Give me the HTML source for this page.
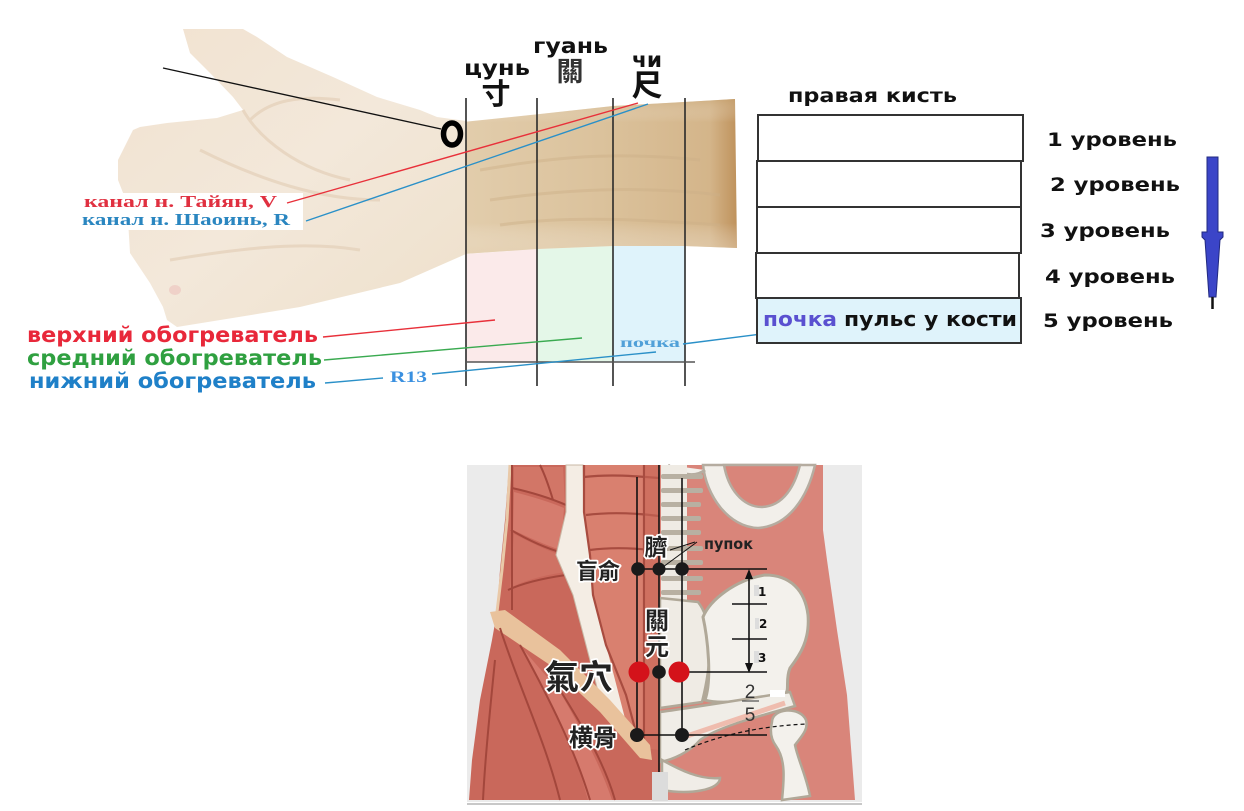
<!DOCTYPE html>
<html><head><meta charset="utf-8"><style>
html,body{margin:0;padding:0;background:#fff;}
svg{display:block;}
.b{font-family:"DejaVu Sans","Liberation Sans",sans-serif;font-weight:bold;}
.s{font-family:"Liberation Serif",serif;font-weight:bold;}
.c{font-family:"Liberation Sans","Noto Sans CJK TC",sans-serif;}
.o{paint-order:stroke;stroke:#fff;stroke-width:3.5;stroke-linejoin:round;}
</style></head><body>
<svg width="1244" height="811" viewBox="0 0 1244 811" xmlns="http://www.w3.org/2000/svg">
<defs>
<linearGradient id="arm" x1="0" y1="0" x2="1" y2="0">
<stop offset="0" stop-color="#e2cdac"/><stop offset="0.5" stop-color="#dbc29c"/><stop offset="0.9" stop-color="#d4b58a"/><stop offset="1" stop-color="#bf925c"/>
</linearGradient>
<linearGradient id="armv" x1="0" y1="0" x2="0" y2="1">
<stop offset="0" stop-color="#c9a777" stop-opacity="0.45"/><stop offset="0.15" stop-color="#fff" stop-opacity="0"/><stop offset="0.8" stop-color="#fff" stop-opacity="0"/><stop offset="1" stop-color="#e8d6bb" stop-opacity="0.5"/>
</linearGradient>
<linearGradient id="palm" x1="0" y1="0" x2="1" y2="1">
<stop offset="0" stop-color="#f1e2d0"/><stop offset="0.5" stop-color="#f3e8da"/><stop offset="1" stop-color="#eee0cb"/>
</linearGradient>
</defs>
<rect width="1244" height="811" fill="#fff"/>

<!-- colored zones -->
<polygon points="466,254 537,249 537,362 466,362" fill="#fbeaea"/>
<polygon points="537,249 613,246 613,362 537,362" fill="#e4f7e8"/>
<polygon points="613,246 685,246 685,362 613,362" fill="#dff3fb"/>

<!-- forearm -->
<polygon points="463,122 540,114 613,106 684,102 735,99 737,248 684,246 613,246 537,249 463,254" fill="url(#arm)"/>
<polygon points="463,122 540,114 613,106 684,102 735,99 737,248 684,246 613,246 537,249 463,254" fill="url(#armv)"/>
<path d="M480,170 C540,160 600,150 700,160 M490,200 C560,190 640,185 720,195 M500,225 C570,215 650,220 720,225" stroke="#cdb088" stroke-width="3" fill="none" opacity="0.45"/>

<!-- hand -->
<path d="M183,29 L243,29 L257,37 L287,57 L333,77 L377,97 L420,110 L437,117 L466,121 L466,254 L400,283 L300,307 L177,327 L167,320 L163,307 L150,283 L130,253 L127,203 L118,180 L118,160 L133,130 L140,127 L167,123 L217,118 L243,110 L233,97 L210,73 L190,53 Z" fill="url(#palm)"/>
<path d="M243,110 C260,140 300,170 350,180 M200,150 C260,180 320,200 380,200 M170,260 C230,250 300,240 360,250 M250,120 C270,100 300,95 340,100" stroke="#e5d2bb" stroke-width="3" fill="none" opacity="0.8"/>
<ellipse cx="175" cy="290" rx="6" ry="5" fill="#ecc8c0" opacity="0.7"/>

<!-- white label box -->
<rect x="80" y="193" width="223" height="37" fill="#fff"/>

<!-- vertical grid lines -->
<g stroke="#2a2a2a" stroke-width="1.6">
<line x1="466" y1="98" x2="466" y2="386"/>
<line x1="537" y1="98" x2="537" y2="386"/>
<line x1="613" y1="98" x2="613" y2="386"/>
<line x1="685" y1="98" x2="685" y2="386"/>
<line x1="466" y1="362" x2="695" y2="362" stroke="#555"/>
</g>

<!-- connector lines -->
<line x1="163" y1="68" x2="441" y2="129" stroke="#111" stroke-width="1.3"/>
<line x1="287" y1="203" x2="638" y2="103" stroke="#e8303a" stroke-width="1.4"/>
<line x1="306" y1="221" x2="648" y2="104" stroke="#2a90c8" stroke-width="1.4"/>
<line x1="323" y1="337" x2="495" y2="320" stroke="#e8303a" stroke-width="1.4"/>
<line x1="324" y1="360" x2="582" y2="338" stroke="#3aaa50" stroke-width="1.4"/>
<line x1="325" y1="383" x2="383" y2="378" stroke="#2a90c8" stroke-width="1.4"/>
<line x1="432" y1="374" x2="656" y2="352" stroke="#2a90c8" stroke-width="1.4"/>
<line x1="683" y1="344" x2="793" y2="330" stroke="#2a90c8" stroke-width="1.4"/>

<!-- 0 mark -->
<ellipse cx="452" cy="134" rx="8.5" ry="11" fill="none" stroke="#000" stroke-width="5.5"/>

<!-- top labels -->
<text class="b" x="464" y="75" font-size="21" textLength="66" lengthAdjust="spacingAndGlyphs" fill="#111">цунь</text>
<text class="b" x="533" y="53" font-size="21" textLength="75" lengthAdjust="spacingAndGlyphs" fill="#111">гуань</text>
<text class="b" x="632" y="67" font-size="21" textLength="30" lengthAdjust="spacingAndGlyphs" fill="#111">чи</text>
<text class="c" x="496" y="104" font-size="29" text-anchor="middle" font-weight="bold" fill="#111">寸</text>
<text class="c" x="570" y="81" font-size="27" text-anchor="middle" font-weight="bold" fill="#333">關</text>
<text class="c" x="647" y="96" font-size="31" text-anchor="middle" font-weight="bold" fill="#111">尺</text>

<!-- left labels -->
<text class="s" x="84" y="207" font-size="17" textLength="193" lengthAdjust="spacingAndGlyphs" fill="#e03040">канал н. Тайян, V</text>
<text class="s" x="82" y="225" font-size="17" textLength="208" lengthAdjust="spacingAndGlyphs" fill="#2a86c0">канал н. Шаоинь, R</text>
<text class="b" x="27" y="342" font-size="21" textLength="291" lengthAdjust="spacingAndGlyphs" fill="#e8283a">верхний обогреватель</text>
<text class="b" x="27" y="365" font-size="21" textLength="295" lengthAdjust="spacingAndGlyphs" fill="#2fa040">средний обогреватель</text>
<text class="b" x="29" y="388" font-size="21" textLength="287" lengthAdjust="spacingAndGlyphs" fill="#1f80c8">нижний обогреватель</text>
<text class="s" x="390" y="382" font-size="16" textLength="37" lengthAdjust="spacingAndGlyphs" fill="#3a90e0">R13</text>
<text class="s" x="620" y="347" font-size="14" textLength="60" lengthAdjust="spacingAndGlyphs" fill="#50a0d8">почка</text>

<!-- right boxes -->
<text class="b" x="788" y="102" font-size="19" textLength="169" lengthAdjust="spacingAndGlyphs" fill="#111">правая кисть</text>
<g fill="#fff" stroke="#333" stroke-width="2">
<rect x="758" y="115" width="265" height="46"/>
<rect x="757" y="161" width="264" height="46"/>
<rect x="757" y="207" width="264" height="46"/>
<rect x="756" y="253" width="263" height="45"/>
<rect x="757" y="298" width="264" height="45" fill="#dff3fb"/>
</g>
<text class="b" x="763" y="326" font-size="20" textLength="74" lengthAdjust="spacingAndGlyphs" fill="#5a50d0">почка</text>
<text class="b" x="844" y="326" font-size="20" textLength="173" lengthAdjust="spacingAndGlyphs" fill="#111">пульс у кости</text>
<g class="b" font-size="19" fill="#111">
<text x="1047" y="146" textLength="130" lengthAdjust="spacingAndGlyphs">1 уровень</text>
<text x="1050" y="191" textLength="130" lengthAdjust="spacingAndGlyphs">2 уровень</text>
<text x="1040" y="237" textLength="130" lengthAdjust="spacingAndGlyphs">3 уровень</text>
<text x="1045" y="283" textLength="130" lengthAdjust="spacingAndGlyphs">4 уровень</text>
<text x="1043" y="327" textLength="130" lengthAdjust="spacingAndGlyphs">5 уровень</text>
</g>
<!-- blue arrow -->
<path d="M1207,157 L1218,157 L1218,232 L1223,232 L1223,237 L1220,240 L1216,297 L1209,297 L1205,240 L1202,237 L1202,232 L1207,232 Z" fill="#3b45c8" stroke="#222a80" stroke-width="1"/>
<line x1="1212.5" y1="297" x2="1212.5" y2="309" stroke="#111" stroke-width="2.5"/>

<!-- ===== bottom anatomical image ===== -->
<rect x="467" y="465" width="395" height="337" fill="#ebebeb"/>
<line x1="467" y1="804" x2="862" y2="804" stroke="#c8c8c8" stroke-width="2"/>

<!-- left torso muscles -->
<path d="M509,465 L659,465 L659,800 L469,800 L472,760 L480,700 L492,640 L497,612 L500,570 L505,520 Z" fill="#c9685b"/>
<path d="M510,465 L507,520 L502,570 L497,612" stroke="#e9c9a8" stroke-width="3" fill="none"/>
<!-- oblique tiles -->
<path d="M514,467 L563,467 L565,503 C550,498 530,492 514,488 Z" fill="#d27667"/>
<path d="M514,492 C530,496 550,502 564,508 L561,550 C545,545 528,537 513,530 Z" fill="#d67c6e"/>
<path d="M514,534 C530,542 545,550 561,555 L566,572 C545,575 525,580 510,588 Z" fill="#cf7264"/>
<g stroke="#a3473c" stroke-width="2" fill="none">
<path d="M512,465 L512,610 M512,488 C530,492 550,498 566,505 M511,530 C528,540 545,548 563,553 M508,590 C525,582 545,578 566,575"/>
<path d="M540,465 C545,475 550,490 553,500" />
</g>
<!-- white linea band -->
<path d="M566,465 L583,465 L584,512 L590,555 L593,595 L606,645 L626,695 L636,728 L628,732 L599,695 L586,645 L573,595 L556,555 L566,512 Z" fill="#f4ede4" stroke="#c9b8a6" stroke-width="1"/>
<!-- rectus -->
<path d="M584,465 L659,465 L659,750 L640,748 L628,730 L606,645 L593,595 L590,555 L584,512 Z" fill="#d9806f"/>
<g stroke="#a84c40" stroke-width="2.2" fill="none">
<path d="M584,477 C610,474 635,476 659,478"/>
<path d="M586,515 C610,512 635,513 659,516"/>
<path d="M590,550 C612,547 636,548 659,551"/>
<path d="M644,465 L644,748"/>
<path d="M584,465 L584,512 L590,555 L593,595 L606,645 L626,695 L638,740"/>
</g>
<rect x="645" y="465" width="14" height="285" fill="#c86557" opacity="0.6"/>
<!-- inguinal band -->
<path d="M490,612 L505,610 L560,650 L610,700 L650,745 L652,760 L640,758 L600,712 L550,665 L495,628 Z" fill="#e9c29c"/>
<!-- thigh strips -->
<path d="M522,648 C550,700 575,750 588,800 L612,800 C600,765 582,730 560,692 Z" fill="#d67a6d"/>
<g stroke="#a3473c" stroke-width="2" fill="none">
<path d="M500,628 C520,690 545,740 560,800"/>
<path d="M520,645 C550,700 575,750 590,800"/>
<path d="M560,690 C585,730 605,765 615,800"/>
<path d="M495,660 C490,710 485,760 483,800"/>
</g>

<!-- right torso skin -->
<path d="M659,465 L823,465 L823,530 L827,560 L837,630 L847,695 L855,800 L659,800 Z" fill="#d9857a"/>
<!-- ribs -->
<path d="M703,465 C706,495 728,527 758,528 C790,526 808,495 815,465 Z" fill="#f2efea" stroke="#b5aca0" stroke-width="2.5"/>
<path d="M724,465 C728,488 742,507 762,507 C784,506 795,485 800,465 Z" fill="#d9857a" stroke="#b5aca0" stroke-width="2.5"/>
<path d="M668,465 C680,475 695,478 705,470" stroke="#b5aca0" stroke-width="3" fill="#f2efea"/>
<!-- spine -->
<rect x="661" y="465" width="26" height="140" fill="#efebe4"/>
<g fill="#b8b0a2">
<rect x="661" y="474" width="42" height="5" rx="2"/>
<rect x="661" y="488" width="42" height="5" rx="2"/>
<rect x="661" y="502" width="40" height="5" rx="2"/>
<rect x="661" y="516" width="40" height="5" rx="2"/>
<rect x="661" y="530" width="40" height="5" rx="2"/>
<rect x="661" y="546" width="42" height="5" rx="2"/>
<rect x="661" y="560" width="42" height="5" rx="2"/>
<rect x="661" y="576" width="42" height="5" rx="2"/>
<rect x="661" y="590" width="40" height="5" rx="2"/>
</g>
<!-- sacrum -->
<path d="M660,598 L698,602 C714,622 712,662 702,702 L660,708 Z" fill="#efebe4" stroke="#b0a898" stroke-width="2.5"/>
<!-- ilium -->
<path d="M703,617 C710,600 735,580 765,575 C790,575 805,590 808,615 C810,640 800,655 790,668 C785,680 790,690 785,695 C760,700 720,705 705,700 C712,680 708,640 703,617 Z" fill="#f3f1ec" stroke="#b0a898" stroke-width="3"/>
<!-- lower pelvis -->
<path d="M660,712 C690,708 740,700 790,692 L795,706 C760,716 720,726 700,740 C690,752 672,760 660,762 Z" fill="#f0ede7" stroke="#b0a898" stroke-width="2.5"/>
<path d="M662,760 C680,770 700,780 720,778 C720,790 690,795 662,790 Z" fill="#f0ede7" stroke="#b0a898" stroke-width="2.5"/>
<!-- femur -->
<path d="M772,722 C772,708 800,706 806,720 C809,730 800,738 795,745 C798,760 806,775 810,796 L782,800 C784,780 786,760 776,746 C770,738 770,730 772,722 Z" fill="#f3f1ec" stroke="#b0a898" stroke-width="2.5"/>
<line x1="684" y1="737" x2="785" y2="703" stroke="#efbcae" stroke-width="5"/>
<rect x="770" y="690" width="15" height="7" fill="#fff"/>
<rect x="652" y="772" width="16" height="29" fill="#dcdcdc"/>

<!-- lines over body -->
<g stroke="#111" stroke-width="1.6" fill="none">
<line x1="659" y1="465" x2="659" y2="772"/>
<line x1="637" y1="477" x2="637" y2="736"/>
<line x1="682" y1="478" x2="682" y2="736"/>
<line x1="638" y1="569" x2="767" y2="569"/>
<line x1="678" y1="672" x2="767" y2="672"/>
<line x1="637" y1="735" x2="767" y2="735"/>
<line x1="732" y1="604" x2="767" y2="604"/>
<line x1="732" y1="639" x2="767" y2="639"/>
<line x1="749" y1="577" x2="749" y2="664"/>
<line x1="742" y1="701" x2="759" y2="701" stroke="#555" stroke-width="1.2"/>
<line x1="749" y1="728" x2="749" y2="735" stroke-width="1.2"/>
<path d="M685,750 C720,735 760,726 807,724" stroke-dasharray="4,3" stroke-width="1.2"/>
<line x1="670" y1="550" x2="695" y2="542" stroke-width="1"/>
<line x1="663" y1="567" x2="697" y2="542" stroke-width="1"/>
</g>
<path d="M749,569 L745,579 L753,579 Z" fill="#111"/>
<path d="M749,673 L745,663 L753,663 Z" fill="#111"/>

<!-- dots -->
<g fill="#1a1a1a">
<circle cx="638" cy="569" r="6.8"/><circle cx="659" cy="569" r="6.5"/><circle cx="682" cy="569" r="6.8"/>
<circle cx="659" cy="672" r="6.8"/>
<circle cx="637" cy="735" r="7"/><circle cx="682" cy="735" r="7"/>
</g>
<circle cx="639" cy="672" r="10.5" fill="#d4121a"/>
<circle cx="679" cy="672" r="10.5" fill="#d4121a"/>

<!-- body labels -->
<g class="c" fill="#222" font-weight="bold">
<text class="o" x="656" y="555" font-size="23" text-anchor="middle">臍</text>
<text class="o" x="598" y="579" font-size="22" text-anchor="middle">盲俞</text>
<text class="o" x="657" y="629" font-size="24" text-anchor="middle">關</text>
<text class="o" x="657" y="655" font-size="24" text-anchor="middle">元</text>
<text class="o" x="579" y="689" font-size="34" text-anchor="middle">氣穴</text>
<text class="o" x="593" y="746" font-size="24" text-anchor="middle">横骨</text>
</g>
<text class="b" x="704" y="549" font-size="15" textLength="49" lengthAdjust="spacingAndGlyphs" fill="#222">пупок</text>
<rect x="754" y="585" width="5" height="11" fill="#ddd"/>
<rect x="755" y="618" width="4" height="11" fill="#ddd"/>
<rect x="754" y="651" width="5" height="12" fill="#ddd"/>
<g class="b" font-size="12" fill="#111">
<text x="758" y="596">1</text>
<text x="759" y="628">2</text>
<text x="758" y="662">3</text>
</g>
<text class="c" x="750" y="698" font-size="19" text-anchor="middle" fill="#333">2</text>
<text class="c" x="750" y="721" font-size="19" text-anchor="middle" fill="#333">5</text>
</svg>
</body></html>
